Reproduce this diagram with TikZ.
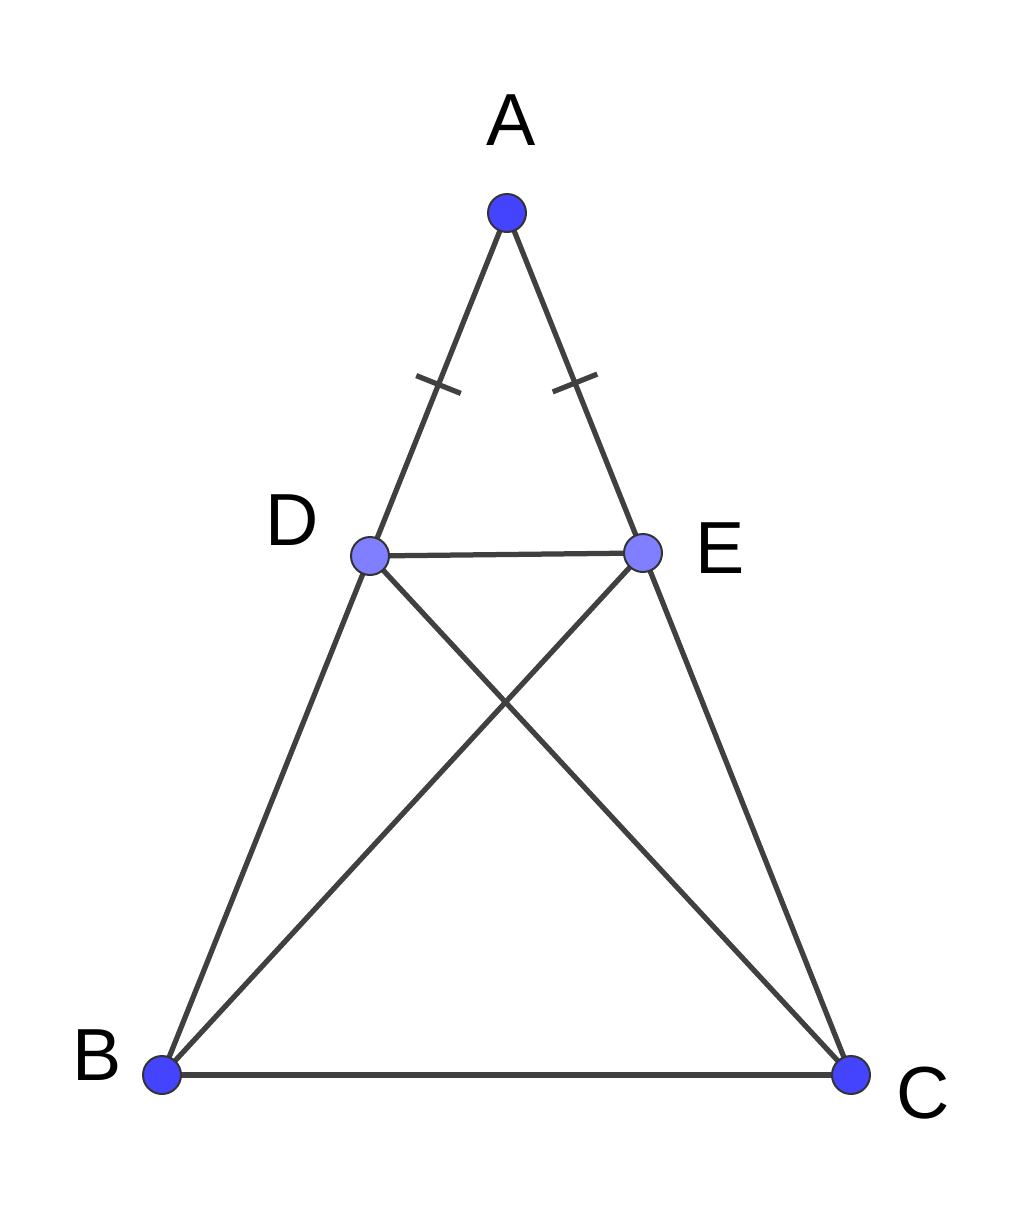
\documentclass[tikz,border=0pt]{standalone}
\usepackage{fontspec}
\setmainfont{Liberation Sans}
\usetikzlibrary{calc}
\definecolor{seg}{HTML}{404040}
\definecolor{ptdark}{HTML}{4444FF}
\definecolor{ptlight}{HTML}{7F7FFF}
\begin{document}
\begin{tikzpicture}[x=0.02cm,y=-0.02cm,
  segline/.style={draw=seg,line width=0.105cm},
  ptfree/.style={circle,draw=black!80,line width=0.04cm,fill=ptdark,minimum size=0.76cm,inner sep=0pt},
  ptdep/.style={circle,draw=black!80,line width=0.04cm,fill=ptlight,minimum size=0.76cm,inner sep=0pt},
  lbl/.style={font=\fontsize{42}{42}\selectfont,inner sep=0pt}]
\useasboundingbox (0,0) rectangle (1024,1227);
\coordinate (A) at (507,213);
\coordinate (B) at (162,1075);
\coordinate (C) at (851,1075);
\coordinate (D) at (370,556);
\coordinate (E) at (643,553);
\draw[segline] (A) -- (D);
\draw[segline] (A) -- (E);
\draw[segline] (D) -- (B);
\draw[segline] (E) -- (C);
\draw[segline] (B) -- (C);
\draw[segline] (D) -- (E);
\draw[segline] (D) -- (C);
\draw[segline] (E) -- (B);
% equal-length ticks
\coordinate (m1) at ($(A)!0.5!(D)$);
\coordinate (m2) at ($(A)!0.5!(E)$);
\draw[segline] ($(m1)!0.48cm!90:(A)$) -- ($(m1)!0.48cm!-90:(A)$);
\draw[segline] ($(m2)!0.48cm!90:(A)$) -- ($(m2)!0.48cm!-90:(A)$);
% points
\node[ptfree] (pA) at (A) {};
\node[ptfree] (pB) at (B) {};
\node[ptfree] (pC) at (C) {};
\node[ptdep] (pD) at (D) {};
\node[ptdep] (pE) at (E) {};
% labels
\node[lbl] (lA) at (511,120) {A};
\node[lbl] (lD) at (292,520) {D};
\node[lbl] (lE) at (720,548) {E};
\node[lbl] (lB) at (97,1055) {B};
\node[lbl] (lC) at (923,1093) {C};
\end{tikzpicture}
\end{document}
